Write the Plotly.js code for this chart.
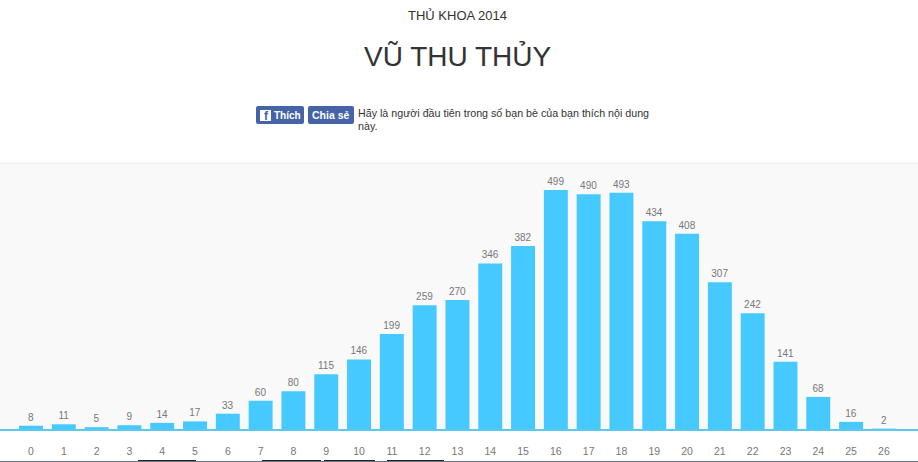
<!DOCTYPE html>
<html>
<head>
<meta charset="utf-8">
<script src="https://cdn.plot.ly/plotly-3.0.1.min.js"></script>
<style>html,body{margin:0;padding:0;background:#fff;overflow:hidden}#chart{width:918px;height:462px}</style>
</head>
<body>
<div id="chart"></div>
<script>
const scores = [0,1,2,3,4,5,6,7,8,9,10,11,12,13,14,15,16,17,18,19,20,21,22,23,24,25,26];
const counts = [8,11,5,9,14,17,33,60,80,115,146,199,259,270,346,382,499,490,493,434,408,307,242,141,68,16,2];
const supertitle = "THỦ KHOA 2014";
const mainTitle = "VŨ THU THỦY";
const likeLabel = "Thích";
const shareLabel = "Chia sẻ";
const socialLine1 = "Hãy là người đầu tiên trong số bạn bè của bạn thích nội dung";
const socialLine2 = "này.";

const sans = "Liberation Sans, Arial, sans-serif";
const plotTop = 164, plotBottom = 431;
const py = y => (plotBottom - y) / (plotBottom - plotTop);
function label(x, y, text, size, color, anchor, bold) {
  return {
    xref: "paper", yref: "paper", x: x / 918, y: py(y),
    text: text, showarrow: false, xanchor: anchor, yanchor: "middle", borderpad: 0, borderwidth: 0,
    font: {family: sans, size: size, color: color, weight: bold ? "bold" : "normal"}
  };
}
function box(x0, y0, x1, y1, fill) {
  return {type: "rect", xref: "paper", yref: "paper", layer: "above",
    x0: x0 / 918, x1: x1 / 918, y0: py(y0), y1: py(y1),
    fillcolor: fill, line: {width: 0}};
}
function roundBox(x0, y0, x1, y1, r, fill) {
  const X = v => v / 918, Y = py;
  const path = `M${X(x0 + r)},${Y(y0)} L${X(x1 - r)},${Y(y0)} Q${X(x1)},${Y(y0)} ${X(x1)},${Y(y0 + r)} ` +
    `L${X(x1)},${Y(y1 - r)} Q${X(x1)},${Y(y1)} ${X(x1 - r)},${Y(y1)} L${X(x0 + r)},${Y(y1)} ` +
    `Q${X(x0)},${Y(y1)} ${X(x0)},${Y(y1 - r)} L${X(x0)},${Y(y0 + r)} Q${X(x0)},${Y(y0)} ${X(x0 + r)},${Y(y0)} Z`;
  return {type: "path", xref: "paper", yref: "paper", layer: "above", path: path, fillcolor: fill, line: {width: 0}};
}

Plotly.newPlot("chart", [{
  type: "bar",
  x: scores,
  y: counts,
  width: 0.73,
  marker: {color: "#45c9ff", line: {width: 0}},
  text: counts.map(String),
  textposition: "outside",
  cliponaxis: false,
  textfont: {family: sans, size: 10, color: "#777777"},
  hoverinfo: "x+y"
}], {
  width: 918, height: 462,
  margin: {l: 0, r: 0, t: plotTop, b: 462 - plotBottom, pad: 0},
  paper_bgcolor: "#ffffff",
  plot_bgcolor: "#f9f9f9",
  showlegend: false,
  xaxis: {
    range: [-0.945, 27.04], tickmode: "array", tickvals: scores,
    ticktext: scores.map(String), ticks: "outside", ticklen: 10, tickcolor: "rgba(0,0,0,0)",
    showgrid: false, zeroline: false, showline: false,
    tickfont: {family: sans, size: 10.5, color: "#777777"}, fixedrange: true
  },
  yaxis: {
    range: [-3, 553], visible: false, showgrid: false, zeroline: false, fixedrange: true
  },
  shapes: [
    box(0, 429, 918, 431, "#5ac8ef"),
    box(0, 162.5, 918, 164, "#f0f0f0"),
    roundBox(256, 106, 304, 124, 2, "#4564a8"),
    roundBox(308, 106, 354, 124, 2, "#4564a8"),
    box(260, 110, 271, 121, "#ffffff"),
    box(0, 461, 918, 462, "#66758c"),
    box(138, 460, 196, 461, "#222222"),
    box(262, 460, 321, 461, "#222222"),
    box(324, 460, 375, 461, "#222222"),
    box(387, 460, 444, 461, "#222222")
  ],
  annotations: [
    label(457, 15, supertitle, 13, "#333333", "center"),
    label(457.5, 56, mainTitle, 28, "#333333", "center"),
    label(266.5, 116, "f", 12, "#4564a8", "center", true),
    label(274, 115.5, likeLabel, 10, "#ffffff", "left", true),
    label(331, 115.5, shareLabel, 10.5, "#ffffff", "center", true),
    label(358, 113, socialLine1, 10.7, "#333333", "left"),
    label(358, 126, socialLine2, 10.7, "#333333", "left")
  ]
}, {displayModeBar: false, staticPlot: true});
</script>
</body>
</html>
